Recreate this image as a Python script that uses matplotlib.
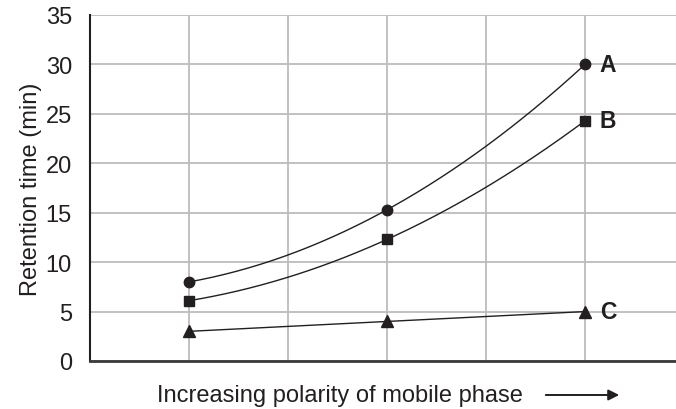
import numpy as np
import matplotlib.pyplot as plt
from matplotlib.patches import FancyArrowPatch

plt.rcParams['font.family'] = ['Liberation Sans', 'DejaVu Sans']

# polarity steps (arbitrary units) and retention times in minutes
polaridade = [1, 3, 5]
tempo_a = [8.0, 15.3, 30.0]
tempo_b = [6.1, 12.3, 24.3]
tempo_c = [3.0, 4.0, 5.0]
rotulos = ['A', 'B', 'C']

fig = plt.figure(figsize=(6.76, 4.10), dpi=100)
ax = fig.add_axes([90/676, 1 - 362/410, 1 - 90/676, (362 - 16)/410])

marcadores = ['o', 's', '^']
tamanhos = [7.5, 7.5, 8]
for serie, m, ms, rot in zip([tempo_a, tempo_b, tempo_c], marcadores, tamanhos, rotulos):
    # smooth curve through the three measured points
    coef = np.polyfit(polaridade, serie, 2)
    xs = np.linspace(polaridade[0], polaridade[-1], 200)
    ax.plot(xs, np.polyval(coef, xs), color='#231f20', lw=1.0, zorder=3)
    ax.plot(polaridade, serie, m, color='#231f20', ms=ms, zorder=4, clip_on=False)
    ax.text(polaridade[-1] + 0.15, serie[-1], rot, fontsize=16.5, fontweight='bold',
            va='center', ha='left', color='#231f20')

ax.set_xlim(0, 586/99)
ax.set_ylim(0, 35)
ax.set_xticks([1, 2, 3, 4, 5])
ax.set_xticklabels([])
ax.set_yticks(range(0, 36, 5))
ax.tick_params(axis='both', length=0, labelsize=17, pad=13, colors='#231f20')
ax.grid(True, color='#bcbcbc', lw=1.3)
ax.set_axisbelow(True)
for lado in ['top', 'right']:
    ax.spines[lado].set_visible(False)
ax.spines['left'].set_color('#231f20')
ax.spines['left'].set_linewidth(1.5)
ax.spines['bottom'].set_color('#3a3a3a')
ax.spines['bottom'].set_linewidth(2)

ax.set_ylabel('Retention time (min)', fontsize=17, color='#231f20', labelpad=3)
fig.text(340/676, 1 - 396/410, 'Increasing polarity of mobile phase', fontsize=17,
         ha='center', va='center', color='#231f20')
seta = FancyArrowPatch((543/676, 1 - 396/410), (622/676, 1 - 396/410),
                       transform=fig.transFigure, arrowstyle='-|>', mutation_scale=16,
                       color='#231f20', lw=1.4)
fig.patches.append(seta)

fig.savefig('out.png', dpi=100)
